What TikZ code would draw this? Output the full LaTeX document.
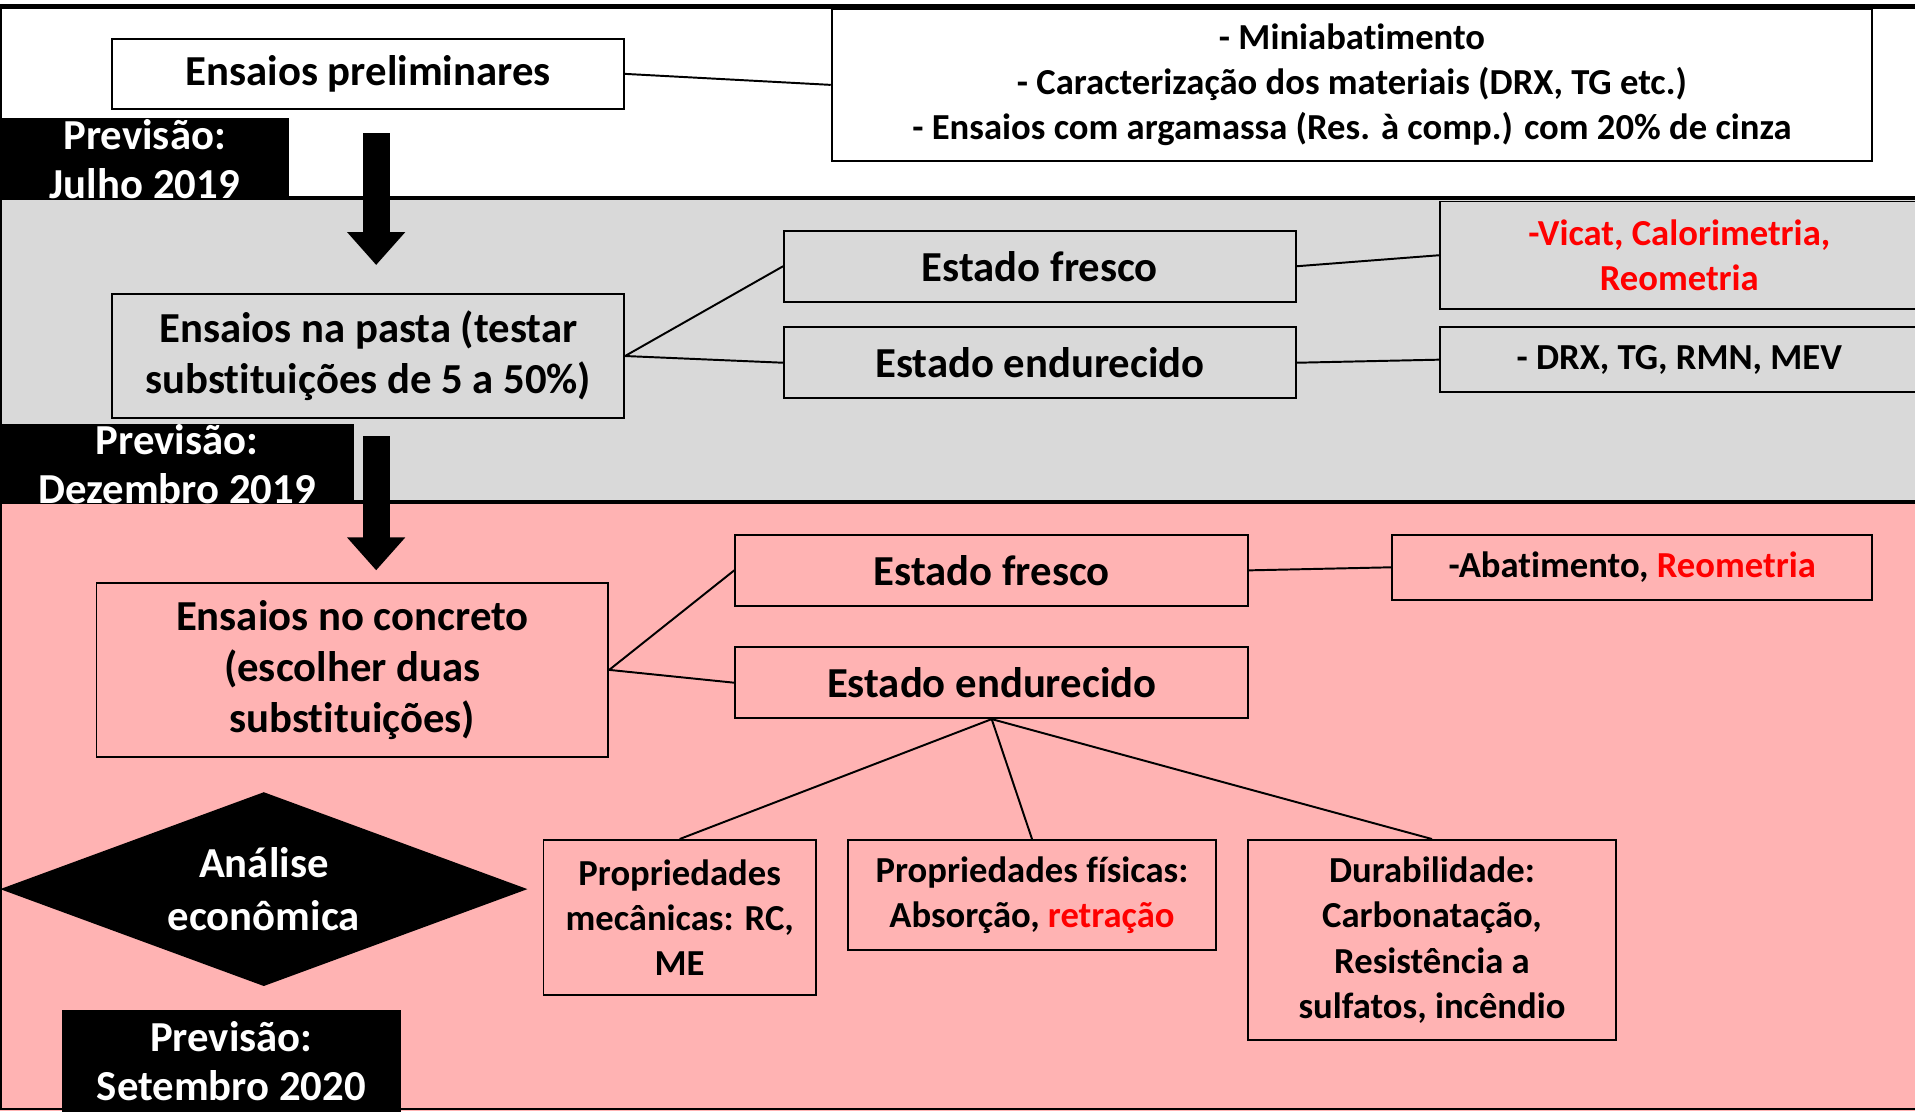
\documentclass[tikz,border=0pt]{standalone}
\usepackage{fontspec}
\setmainfont{Carlito}[Ligatures=NoCommon]
\usetikzlibrary{arrows.meta,shapes.geometric}

\definecolor{bandgray}{HTML}{D9D9D9}
\definecolor{bandpink}{HTML}{FFB3B3}
\definecolor{txtred}{HTML}{FF0000}

\tikzset{
  box/.style={draw, line width=0.8pt, align=center, inner sep=0pt,
    font=\bfseries\fontsize{17.5}{21}\selectfont},
  small/.style={font=\bfseries\fontsize{15}{18.5}\selectfont},
  sz/.style 2 args={minimum width=#1*0.5pt, minimum height=#2*0.5pt},
  prev/.style={fill=black, text=white, align=center, inner sep=0pt,
    font=\bfseries\fontsize{17.5}{20}\selectfont},
  link/.style={line width=0.8pt},
  sep/.style={line width=1.5pt},
  bigarrow/.style={line width=11pt, -{Triangle[width=23pt,length=13.5pt]}}
}

\begin{document}
\begin{tikzpicture}[x=0.5pt, y=-0.5pt]
  \useasboundingbox (0,0) rectangle (1568,910);
  \clip (0,0) rectangle (1568,910);

  % bands
  \fill[white] (0,0) rectangle (1568,162);
  \fill[bandgray] (0,162) rectangle (1568,411);
  \fill[bandpink] (0,411) rectangle (1568,910);
  \draw[line width=2pt] (0,5) -- (1568,5);
  \foreach \y in {162, 411}
    \draw[sep] (0,\y) -- (1568,\y);
  \draw[line width=0.8pt] (0.5,5) -- (0.5,908) -- (1568,908);

  % preliminares
  \node[box, sz={419}{57}] (prelim) at (301.5,60.5) {Ensaios preliminares};
  \node[box, sz={852}{125}, font=\bfseries\fontsize{15}{18.5}\selectfont]
    (mini) at (1107,69.5)
    {- Miniabatimento\\
     - Caracterização dos materiais (DRX, TG etc.)\\
     - Ensaios com argamassa (Res. à comp.) com 20\% de cinza};
  \draw[link] (prelim.east) -- (mini.west);

  % pasta
  \node[box, sz={419}{101}] (pasta) at (301.5,291.5)
    {Ensaios na pasta (testar\\substituições de 5 a 50\%)};
  \node[box, sz={419}{58}] (pfresco) at (851.5,218) {Estado fresco};
  \node[box, sz={419}{58}] (pendur) at (851.5,297) {Estado endurecido};
  \node[box, small, sz={392}{88}, text=txtred] (vicat) at (1375,209)
    {-Vicat, Calorimetria,\\Reometria};
  \node[box, small, sz={392}{53}] (drx) at (1375,294.5) {- DRX, TG, RMN, MEV};
  \draw[link] (pasta.east) -- (pfresco.west);
  \draw[link] (pasta.east) -- (pendur.west);
  \draw[link] (pfresco.east) -- (vicat.west);
  \draw[link] (pendur.east) -- (drx.west);

  % concreto
  \node[box, sz={419}{143}] (concreto) at (288.5,548.5)
    {Ensaios no concreto\\(escolher duas\\substituições)};
  \node[box, sz={420}{58}] (cfresco) at (812,467) {Estado fresco};
  \node[box, sz={420}{58}] (cendur) at (812,559) {Estado endurecido};
  \node[box, small, sz={393}{53}] (abat) at (1336.5,464.5)
    {-Abatimento, \textcolor{txtred}{Reometria}};
  \draw[link] (concreto.east) -- (cfresco.west);
  \draw[link] (concreto.east) -- (cendur.west);
  \draw[link] (cfresco.east) -- (abat.west);

  \node[box, small, sz={223}{127}, anchor=north] (mec) at (556.5,687)
    {Propriedades\\mecânicas: RC,\\ME};
  \node[box, small, sz={302}{90}, anchor=north] (fis) at (845,687)
    {Propriedades físicas:\\Absorção, \textcolor{txtred}{retração}};
  \node[box, small, sz={301}{164}, anchor=north] (dur) at (1172.5,687)
    {Durabilidade:\\Carbonatação,\\Resistência a\\sulfatos, incêndio};
  \foreach \b in {mec, fis, dur}
    \draw[link] (cendur.south) -- (\b.north);

  % analise
  \node[diamond, fill=black, text=white, inner sep=0pt, aspect=2.72,
    sz={432}{159}, align=center,
    font=\bfseries\fontsize{17.5}{21.5}\selectfont] (analise) at (216,728)
    {Análise\\econômica};

  % previsoes
  \node[prev, sz={237}{66}] (prev1) at (118.5,130) {Previsão:\\Julho 2019};
  \node[prev, sz={290}{66}] (prev2) at (145,380) {Previsão:\\Dezembro 2019};
  \node[prev, sz={277}{84}] (prev3) at (189.5,869) {Previsão:\\Setembro 2020};

  % setas
  \coordinate (a1s) at (308,109);
  \coordinate (a1e) at (308,217);
  \coordinate (a2s) at (308,357);
  \coordinate (a2e) at (308,467);
  \draw[bigarrow] (a1s) -- (a1e);
  \draw[bigarrow] (a2s) -- (a2e);
\end{tikzpicture}
\end{document}
